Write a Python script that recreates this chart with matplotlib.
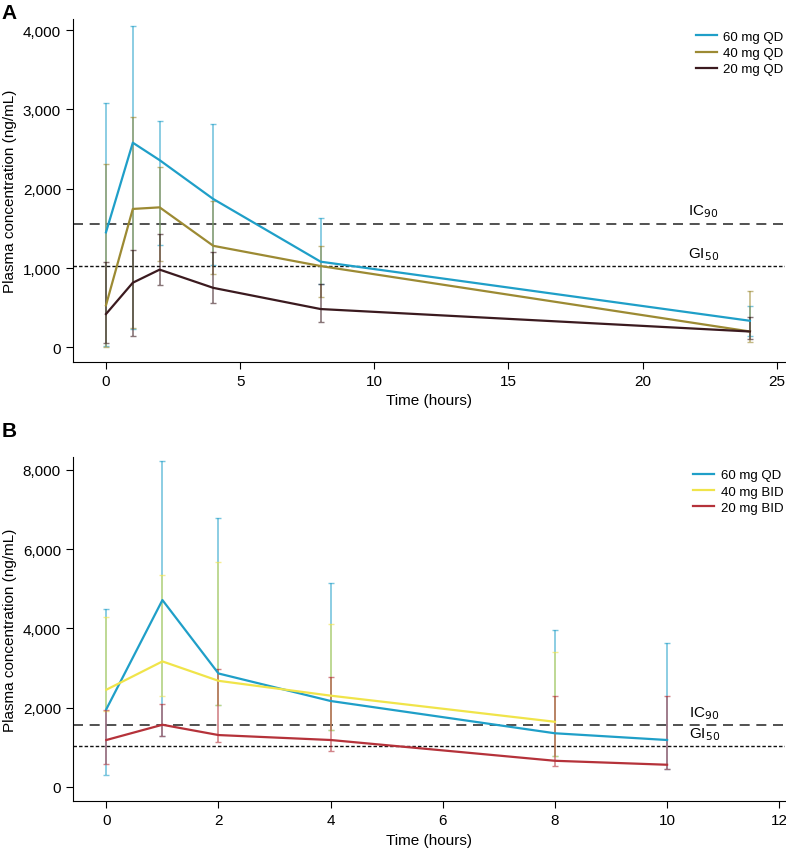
import matplotlib
matplotlib.use('Agg')
import matplotlib.pyplot as plt
import matplotlib.ticker as mticker
import numpy as np

plt.rcParams['font.family'] = ['Liberation Sans', 'DejaVu Sans']

# panel A: once daily dosing
time_a = [0, 1, 2, 4, 8, 24]
labels_a = ['60 mg QD', '40 mg QD', '20 mg QD']
mean_a = [[1450, 2580, 2360, 1870, 1080, 335],
          [530, 1745, 1765, 1280, 1025, 200],
          [420, 815, 980, 750, 483, 200]]
upper_a = [[3080, 4050, 2850, 2820, 1630, 525],
           [2310, 2900, 2270, 1850, 1280, 714],
           [1080, 1227, 1429, 1198, 798, 386]]
lower_a = [[20, 230, 1290, 1040, 800, 146],
           [10, 250, 1090, 930, 640, 71],
           [60, 140, 786, 559, 315, 104]]
colors_a = ['#1f9fc8', '#9c8a33', '#3b1a1f']

# panel B: twice daily dosing
time_b = [[0, 1, 2, 4, 8, 10],
          [0, 1, 2, 4, 8],
          [0, 1, 2, 4, 8, 10]]
labels_b = ['60 mg QD', '40 mg BID', '20 mg BID']
mean_b = [[1960, 4715, 2860, 2165, 1350, 1180],
          [2450, 3165, 2675, 2300, 1640],
          [1180, 1565, 1305, 1180, 655, 555]]
upper_b = [[4490, 8220, 6785, 5135, 3960, 3620],
           [4280, 5345, 5665, 4115, 3410],
           [1945, 2090, 2970, 2760, 2300, 2300]]
lower_b = [[295, 1270, 2060, 1430, 767, 450],
           [1900, 2283, 2063, 1432, 767],
           [575, 1272, 1137, 894, 515, 447]]
colors_b = ['#1f9fc8', '#f0e44a', '#b5323a']

ic90 = 1560
gi50 = 1030


def draw_panel(ax, times, means, ups, lows, colors, labels, xlim, ylim, xticks, yticks, lab_x, leg_y):
	for t, m, u, l, c in zip(times, means, ups, lows, colors):
		m = np.array(m)
		err = [m - np.array(l), np.array(u) - m]
		ax.errorbar(t, m, yerr=err, fmt='none', ecolor=c, alpha=0.6,
			elinewidth=1.2, capsize=2, capthick=1)
	for t, m, c, lab in zip(times, means, colors, labels):
		ax.plot(t, m, color=c, lw=1.6, label=lab, zorder=3)
	ax.axhline(ic90, color='#333333', lw=1.2, ls=(0, (6, 4)), zorder=1)
	ax.axhline(gi50, color='#111111', lw=1.0, ls=(0, (2.5, 1.5)), zorder=1)
	ax.text(lab_x, ic90 + (ylim[1] - ylim[0]) * 0.012, 'IC$_{90}$', fontsize=11, va='bottom')
	ax.text(lab_x, gi50 + (ylim[1] - ylim[0]) * 0.012, 'GI$_{50}$', fontsize=11, va='bottom')
	ax.set_xlim(xlim)
	ax.set_ylim(ylim)
	ax.set_xticks(xticks)
	ax.set_yticks(yticks)
	ax.yaxis.set_major_formatter(mticker.FuncFormatter(lambda v, p: '{:,.0f}'.format(v)))
	ax.spines['top'].set_visible(False)
	ax.spines['right'].set_visible(False)
	ax.tick_params(direction='out', length=5, labelsize=11)
	ax.set_xlabel('Time (hours)', fontsize=11)
	ax.set_ylabel('Plasma concentration (ng/mL)', fontsize=11)
	ax.legend(loc='upper right', frameon=False, fontsize=9.5, handlelength=1.6,
		handletextpad=0.5, labelspacing=0.3, bbox_to_anchor=(1.015, leg_y))


fig = plt.figure(figsize=(7.86, 8.53), dpi=100)
ax1 = fig.add_axes([0.0925, 0.5744, 0.906, 0.4022])
ax2 = fig.add_axes([0.0925, 0.0594, 0.906, 0.4033])

draw_panel(ax1, [time_a] * 3, mean_a, upper_a, lower_a, colors_a, labels_a,
	(-1.24, 25.3), (-185, 4140), [0, 5, 10, 15, 20, 25], [0, 1000, 2000, 3000, 4000], 21.7, 1.0)
draw_panel(ax2, time_b, mean_b, upper_b, lower_b, colors_b, labels_b,
	(-0.6, 12.1), (-369, 8320), [0, 2, 4, 6, 8, 10, 12], [0, 2000, 4000, 6000, 8000], 10.4, 1.0)

fig.text(0.002, 0.995, 'A', fontsize=15, fontweight='bold', va='top')
fig.text(0.002, 0.505, 'B', fontsize=15, fontweight='bold', va='top')

plt.savefig('out.png', dpi=100)
